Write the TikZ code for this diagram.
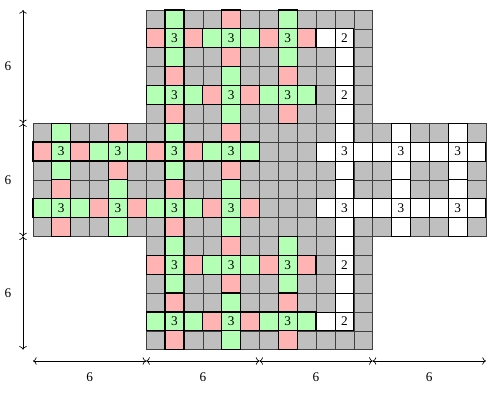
\documentclass[tikz,border=0pt]{standalone}
\usepackage{fontspec}
\setmainfont{Liberation Serif}
\usepackage{tikz}
\usetikzlibrary{arrows.meta}
\definecolor{cellgray}{gray}{0.75}
\definecolor{cellgreen}{HTML}{B3FFB3}
\definecolor{cellpink}{HTML}{FFB3B3}

\tikzset{
  gcell/.style={fill=cellgray, draw=gray!50!black, line width=0.4pt},
  grcell/.style={fill=cellgreen, draw=black, line width=0.9pt},
  pkcell/.style={fill=cellpink, draw=black, line width=0.9pt},
  wcell/.style={fill=white, draw=black, line width=0.6pt},
  num/.style={inner sep=0pt},
  dim/.style={<->, line width=0.5pt},
}
% one cell: style, column, row (row 0 at the top)
\newcommand{\cellat}[3]{\path[#1] ({#2},{17-(#3)}) rectangle ++(1,1);}
% left part of a block: vertical bar at (1,1), horizontal bar at (4,1)
\newcommand{\halfblock}[2]{%
  \foreach \r/\c in {0/1,1/1,2/1,4/0,4/1,4/2}
    {\cellat{grcell}{#1+\c}{#2+\r}}
  \foreach \r/\c in {1/0,1/2,3/1,5/1}
    {\cellat{pkcell}{#1+\c}{#2+\r}}
}
% full 6x6 block
\newcommand{\fullblock}[2]{%
  \halfblock{#1}{#2}
  \foreach \r/\c in {1/3,1/4,1/5,3/4,4/4,5/4}
    {\cellat{grcell}{#1+\c}{#2+\r}}
  \foreach \r/\c in {0/4,2/4,4/3,4/5}
    {\cellat{pkcell}{#1+\c}{#2+\r}}
}

\begin{document}
\begin{tikzpicture}[x=0.5cm, y=0.5cm]
\useasboundingbox (-1.749,-2.35) rectangle (24.43,18.53);

% gray background
\foreach \c in {6,...,17}
  \foreach \r in {0,...,5}
    {\cellat{gcell}{\c}{\r}}
\foreach \c in {6,...,17}
  \foreach \r in {12,...,17}
    {\cellat{gcell}{\c}{\r}}
\foreach \c in {0,...,23}
  \foreach \r in {6,...,11}
    {\cellat{gcell}{\c}{\r}}

% coloured blocks
\fullblock{6}{0}
\fullblock{0}{6}
\fullblock{6}{6}
\fullblock{6}{12}
\halfblock{12}{0}
\halfblock{12}{12}

% white cells
\foreach \c/\r in {15/1,16/1,16/2,16/3,16/4,16/5,
                   16/12,16/13,16/14,16/15,15/16,16/16}
  {\cellat{wcell}{\c}{\r}}
\foreach \c in {15,...,23}
  \foreach \r in {7,10}
    {\cellat{wcell}{\c}{\r}}
\foreach \c in {16,19,22}
  \foreach \r in {6,8,9,11}
    {\cellat{wcell}{\c}{\r}}

% numbers
\foreach \c/\r in {7/1,10/1,13/1,7/4,10/4,13/4,
                   1/7,4/7,7/7,10/7,16/7,19/7,22/7,
                   1/10,4/10,7/10,10/10,16/10,19/10,22/10,
                   7/13,10/13,13/13,7/16,10/16,13/16}
  \node[num] (t-\c-\r) at (\c+0.5,17.5-\r) {3};
\foreach \c/\r in {16/1,16/4,16/13,16/16}
  \node[num] (d-\c-\r) at (\c+0.5,17.5-\r) {2};

% dimensions
\foreach \i/\x in {0/0,1/6,2/12,3/18,4/24}
  \coordinate (h\i) at (\x,-0.6);
\foreach \i/\y in {0/18,1/12,2/6,3/0}
  \coordinate (v\i) at (-0.53,\y);
\foreach \a/\b in {0/1,1/2,2/3,3/4}
  \draw[dim] (h\a) -- node[yshift=-0.42cm] (hl\a) {6} (h\b);
\foreach \a/\b in {0/1,1/2,2/3}
  \draw[dim] (v\a) -- node[xshift=-0.4cm] (vl\a) {6} (v\b);
\end{tikzpicture}
\end{document}
